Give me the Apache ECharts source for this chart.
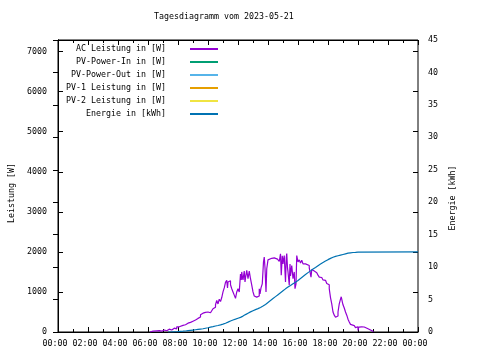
<!DOCTYPE html>
<html>
<head>
<meta charset="utf-8">
<script src="https://cdn.jsdelivr.net/npm/echarts@6/dist/echarts.min.js"></script>
<style>html,body{margin:0;padding:0;background:#fff}#c{width:480px;height:360px}</style>
</head>
<body>
<div id="c"></div>
<script>
const titleText = "Tagesdiagramm vom 2023-05-21";
const seriesNames = ["AC Leistung in [W]", "PV-Power-In in [W]", "PV-Power-Out in [W]", "PV-1 Leistung in [W]", "PV-2 Leistung in [W]", "Energie in [kWh]"];
const seriesColors = ["#9400d3", "#009e73", "#56b4e9", "#e69f00", "#f0e442", "#0072b2"];
const xTickHours = [0, 2, 4, 6, 8, 10, 12, 14, 16, 18, 20, 22, 24];

const acTimes = ["06:08","06:15","06:20","06:25","06:35","06:45","06:50","06:55","07:05","07:10","07:15","07:25","07:30","07:35","07:45","07:50","07:55","08:05","08:10","08:20","08:30","08:40","08:50","09:00","09:10","09:20","09:25","09:30","09:35","09:40","09:45","09:50","10:00","10:05","10:10","10:15","10:20","10:25","10:30","10:35","10:40","10:45","10:50","10:55","11:00","11:05","11:10","11:15","11:18","11:20","11:25","11:30","11:35","11:40","11:45","11:50","11:55","12:00","12:05","12:10","12:13","12:15","12:18","12:20","12:25","12:28","12:30","12:35","12:40","12:45","12:50","12:55","13:00","13:05","13:10","13:15","13:20","13:25","13:28","13:32","13:37","13:42","13:45","13:48","13:52","13:55","14:00","14:05","14:15","14:25","14:30","14:38","14:45","14:50","14:53","14:57","15:00","15:02","15:05","15:08","15:10","15:13","15:15","15:18","15:20","15:25","15:28","15:30","15:35","15:40","15:45","15:48","15:52","15:55","16:00","16:05","16:10","16:15","16:20","16:30","16:35","16:45","16:50","16:52","16:55","17:00","17:05","17:10","17:15","17:20","17:25","17:30","17:35","17:40","17:45","17:50","17:55","18:00","18:05","18:10","18:15","18:20","18:25","18:30","18:35","18:40","18:45","18:50","18:53","18:57","19:00","19:05","19:10","19:15","19:20","19:25","19:30","19:35","19:45","19:50","19:55","20:00","20:03","20:10","20:15","20:20","20:25","20:30","20:40","20:50","21:00"];
const acWatts = [0,20,10,30,35,40,20,50,60,30,70,80,50,95,110,80,130,150,165,180,220,240,270,300,340,360,375,430,470,450,490,500,490,480,500,530,580,620,680,790,700,820,760,860,1000,1100,1240,1290,1100,1250,1280,1180,1080,1000,920,840,1000,1080,1000,1450,1300,1500,1350,1300,1520,1250,1350,1540,1330,1520,1330,1170,1000,900,870,830,900,1080,950,1100,1200,1750,1870,1600,1000,1580,1800,1840,1850,1830,1820,1790,1760,1950,1420,1900,1700,1800,1910,1500,1250,1850,1960,1600,1500,1170,1700,1400,1660,1330,1500,1080,1200,1910,1750,1800,1720,1790,1700,1680,1660,1600,1580,1370,1560,1520,1540,1480,1450,1420,1370,1360,1330,1300,1290,1260,1210,1180,1080,860,700,500,420,370,400,500,700,820,880,760,680,600,500,420,320,250,190,160,130,110,130,40,120,130,110,125,100,80,50,20,0];

const pvInTimes = [], pvInWatts = [];
const pvOutTimes = [], pvOutWatts = [];
const pv1Times = [], pv1Watts = [];
const pv2Times = [], pv2Watts = [];

const energyTimes = ["07:20","07:30","07:40","07:50","08:00","08:10","08:20","08:30","08:40","08:50","09:00","09:10","09:20","09:30","09:40","09:50","10:00","10:10","10:20","10:30","10:40","10:50","11:00","11:10","11:20","11:30","11:40","11:50","12:00","12:10","12:20","12:30","12:40","12:50","13:00","13:10","13:20","13:30","13:40","13:50","14:00","14:10","14:20","14:30","14:40","14:50","15:00","15:10","15:20","15:30","15:40","15:50","16:00","16:10","16:20","16:30","16:40","16:50","17:00","17:10","17:20","17:30","17:40","17:50","18:00","18:10","18:20","18:30","18:40","18:50","19:00","19:10","19:20","19:30","19:40","19:50","20:00","24:00"];
const energyKwh = [0,0.02,0.04,0.06,0.1,0.12,0.15,0.2,0.25,0.3,0.35,0.4,0.45,0.5,0.58,0.66,0.75,0.83,0.92,1.0,1.1,1.22,1.35,1.52,1.7,1.85,1.98,2.12,2.25,2.45,2.68,2.9,3.1,3.28,3.45,3.6,3.78,4.0,4.25,4.55,4.85,5.15,5.45,5.75,6.05,6.35,6.65,6.92,7.18,7.45,7.68,7.95,8.25,8.55,8.85,9.15,9.42,9.7,9.95,10.22,10.47,10.7,10.93,11.15,11.35,11.52,11.65,11.75,11.85,11.95,12.05,12.15,12.2,12.25,12.28,12.32,12.35,12.35];

const leftMax = 7290, leftInterval = 1000;
const rightMax = 45, rightInterval = 5;

function toHours(t){ const p = t.split(':'); return +p[0] + (+p[1])/60; }
function pairs(ts, vs){ return ts.map((t,i)=>[toHours(t), vs[i]]); }
function pad(n){ return (n<10?'0':'') + n; }

const FONT = 'DejaVu Sans Mono';
const FS = 8.3;
const txt = {fontFamily: FONT, fontSize: FS, color: '#000'};

const chart = echarts.init(document.getElementById('c'), null, {renderer: 'canvas'});

const seriesData = [
  pairs(acTimes, acWatts),
  pairs(pvInTimes, pvInWatts),
  pairs(pvOutTimes, pvOutWatts),
  pairs(pv1Times, pv1Watts),
  pairs(pv2Times, pv2Watts),
  pairs(energyTimes, energyKwh)
];

const series = seriesNames.map((n, i) => ({
  name: n,
  type: 'line',
  xAxisIndex: 0,
  yAxisIndex: i === 5 ? 1 : 0,
  step: 'end',
  symbol: 'none',
  showSymbol: false,
  color: seriesColors[i],
  lineStyle: {width: 1.2, color: seriesColors[i]},
  data: seriesData[i]
}));

const xCommon = {
  type: 'value', min: xTickHours[0], max: xTickHours[xTickHours.length-1], interval: xTickHours[1]-xTickHours[0],
  splitLine: {show: false},
  axisLine: {show: true, onZero: false, lineStyle: {color: '#000', width: 1}},
  axisTick: {show: true, inside: true, length: 5, lineStyle: {color: '#000'}},
  minorTick: {show: true, splitNumber: 2, length: 3, lineStyle: {color: '#000'}},
  minorSplitLine: {show: false}
};

chart.setOption({
  animation: false,
  backgroundColor: '#fff',
  title: {text: titleText, left: 154, top: 13, padding: 0, textStyle: Object.assign({fontWeight: 'normal'}, txt)},
  grid: {left: 58, right: 62, top: 40, bottom: 28, show: true, borderColor: '#000', borderWidth: 1, backgroundColor: 'transparent'},
  legend: {
    orient: 'vertical', left: 60, top: 45, align: 'right',
    itemWidth: 28, itemHeight: 8, itemGap: 5, padding: 0,
    selectedMode: false,
    itemStyle: {opacity: 0},
    formatter: n => '{a|' + n + '}',
    textStyle: {fontFamily: FONT, fontSize: FS, color: '#000',
      rich: {a: {fontFamily: FONT, fontSize: FS, color: '#000', width: 106, align: 'right', padding: [0, 19, 0, 0], lineHeight: 9}}},
    data: seriesNames
  },
  xAxis: [
    Object.assign({}, xCommon, {position: 'bottom',
      axisLabel: Object.assign({margin: 8, padding: [0, 6, 0, 0], formatter: v => pad(v % 24) + ':00'}, txt)}),
    Object.assign({}, xCommon, {position: 'top', axisLabel: {show: false}})
  ],
  yAxis: [
    {type: 'value', position: 'left', min: 0, max: leftMax, interval: leftInterval,
      name: 'Leistung [W]', nameLocation: 'middle', nameRotate: 90, nameGap: 42,
      nameTextStyle: Object.assign({padding: [0, 14, 0, 0]}, txt),
      splitLine: {show: false},
      axisLine: {show: true, lineStyle: {color: '#000'}},
      axisTick: {show: true, inside: true, length: 5, lineStyle: {color: '#000'}},
      axisLabel: Object.assign({margin: 11, formatter: v => (v % leftInterval === 0 ? String(v) : ''), showMaxLabel: false}, txt)},
    {type: 'value', position: 'right', min: 0, max: rightMax, interval: rightInterval,
      name: 'Energie [kWh]', nameLocation: 'middle', nameRotate: 90, nameGap: 30,
      nameTextStyle: Object.assign({padding: [0, 24, 0, 0]}, txt),
      splitLine: {show: false},
      axisLine: {show: true, lineStyle: {color: '#000'}},
      axisTick: {show: true, inside: true, length: 5, lineStyle: {color: '#000'}},
      axisLabel: Object.assign({margin: 10}, txt)},
    {type: 'value', position: 'right', min: 0, max: leftMax, interval: leftInterval,
      splitLine: {show: false},
      axisLine: {show: false},
      axisTick: {show: true, inside: true, length: 5, lineStyle: {color: '#000'}},
      axisLabel: {show: false}}
  ],
  series: series
});
</script>
</body>
</html>
